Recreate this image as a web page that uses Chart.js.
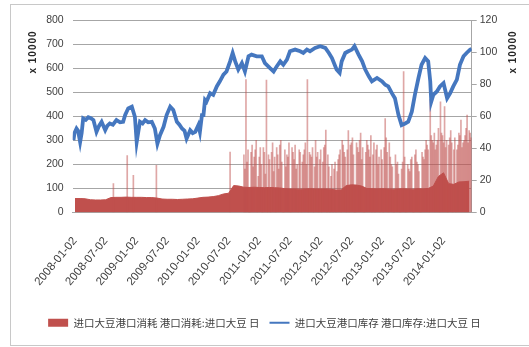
<!DOCTYPE html>
<html>
<head>
<meta charset="utf-8">
<script src="https://cdn.jsdelivr.net/npm/chart.js@4/dist/chart.umd.min.js"></script>
<style>
html,body{margin:0;padding:0;background:#fff;}
#wrap{position:relative;width:529px;height:347px;}
</style>
</head>
<body>
<div id="wrap"><canvas id="c" width="529" height="347"></canvas></div>
<script>
// x values are months counted from 2008-01-02
const tickMonths = [0, 6, 12, 18, 24, 30, 36, 42, 48, 54, 60, 66, 72];
const tickLabels = ["2008-01-02","2008-07-02","2009-01-02","2009-07-02","2010-01-02","2010-07-02",
  "2011-01-02","2011-07-02","2012-01-02","2012-07-02","2013-01-02","2013-07-02","2014-01-02"];
const leftTicks = [0,100,200,300,400,500,600,700,800];
const rightTicks = [0,20,40,60,80,100,120];

const seriesNames = ["进口大豆港口消耗 港口消耗:进口大豆 日", "进口大豆港口库存 港口库存:进口大豆 日"];

// consumption, monthly base level (x 10000), month 0..77
const consumptionBase = [58,58,57,53,52,52,53,62,63,63,64,63,63,63,62,62,60,56,55,55,
  54,55,56,57,60,63,64,66,70,77,80,112,110,105,104,105,104,103,104,103,
  102,99,98,98,97,98,99,98,98,98,97,93,94,112,115,114,110,100,99,98,
  99,98,97,98,99,98,97,99,98,100,110,150,165,120,117,127,128,130];

// consumption, isolated single-day spikes before late 2010 (month, value x 10000)
const earlySpikeMonth = [7.5, 10.2, 11.4, 15.9, 30.3];
const earlySpikeValue = [120, 237, 154, 196, 251];

// consumption, single-day spikes from late 2010 on; set A from month 33.0, set B from 33.2, each every 0.4 month
const spikeA = [240,552,260,0,280,230,300,150,270,0,
  250,550,240,0,290,230,270,180,300,0,
  260,240,290,0,250,280,200,260,0,240,
  290,552,250,230,0,300,250,220,0,270,
  343,240,0,200,180,0,220,260,300,250,
  0,340,280,310,0,290,250,330,270,0,
  300,260,320,240,0,280,230,260,0,390,
  250,290,200,0,240,210,0,180,586,0,
  200,170,230,0,260,200,0,250,220,300,
  260,470,300,330,280,350,460,320,440,300,
  280,340,0,310,260,330,384,290,320,405,
  340,310];
const spikeB = [180,210,0,250,190,260,0,230,200,270,
  160,0,220,250,170,0,240,280,210,0,
  190,230,0,270,220,180,0,250,210,260,
  200,0,240,270,190,230,0,260,210,280,
  0,190,150,0,210,170,240,0,280,230,
  260,0,290,240,0,270,300,220,0,250,
  280,230,0,290,260,200,0,220,270,310,
  0,230,190,0,200,160,0,210,230,0,
  180,220,0,240,210,170,0,230,260,280,
  0,320,290,260,300,0,330,290,270,0,
  310,290,260,0,280,320,270,300,350,290,
  330];
const spikeAStart = 33.0, spikeBStart = 33.2, spikeStep = 0.4;

// inventory (month, value x 10000)
const invMonth = [-0.3,-0.1,0.3,0.6,1.0,1.3,1.6,2.1,2.6,3.1,3.6,4.2,4.7,5.2,5.9,6.3,6.8,7.4,8.1,8.8,
  9.4,9.8,10.4,11.1,11.7,12.05,12.4,12.7,13.2,13.7,14.3,15.0,15.6,16.1,16.6,17.3,17.9,18.6,19.2,19.9,
  20.4,20.9,21.4,21.8,22.5,23.0,23.5,24.1,24.4,24.8,25.1,25.4,25.7,26.4,27.0,27.7,28.3,29.0,29.6,30.3,
  30.8,31.3,31.9,32.6,33.2,33.9,34.5,35.5,36.5,37.1,38.1,38.8,39.4,40.1,40.7,41.4,42.0,43.0,44.0,44.6,
  45.3,45.9,46.9,47.9,48.9,49.6,50.2,51.1,51.7,52.1,52.8,53.4,54.1,54.6,55.4,56.1,56.7,57.4,58.0,59.0,
  60.0,60.6,61.2,61.9,62.5,63.2,63.8,64.5,65.1,65.8,66.4,67.1,67.7,68.4,69.0,69.4,69.6,70.0,70.7,71.3,
  72.0,72.7,73.3,73.9,74.6,75.2,75.9,76.5,77.2,77.5];
const invValue = [300,330,349,340,293,330,391,385,396,392,384,335,360,377,342,360,370,365,384,375,
  377,405,433,440,398,293,340,377,370,384,375,377,349,286,321,356,405,440,426,377,
  365,349,340,307,342,330,335,363,335,405,405,468,461,496,489,524,545,573,586,628,
  663,628,594,621,586,649,656,649,649,621,600,586,607,628,614,635,670,677,670,663,
  677,670,684,691,684,663,642,594,580,628,663,670,677,691,656,628,594,566,545,559,
  545,531,524,496,475,405,363,370,377,419,489,559,614,642,628,545,461,489,503,524,
  538,475,496,524,552,614,649,663,677,680];

const RED = '#C0504D', BLUE = '#4577BF';
const SPIKE = 'rgba(192,80,77,0.5)';

const spikeData = []
  .concat(earlySpikeMonth.map((m, i) => ({x: m, y: earlySpikeValue[i]})))
  .concat(spikeA.map((v, i) => ({x: spikeAStart + i * spikeStep, y: v})))
  .concat(spikeB.map((v, i) => ({x: spikeBStart + i * spikeStep, y: v})));

const framePlugin = {
  id: 'frame',
  beforeDraw(chart) {
    const ctx = chart.ctx;
    ctx.save();
    ctx.fillStyle = '#fff';
    ctx.fillRect(0, 0, chart.width, chart.height);
    ctx.strokeStyle = '#C8C8C8';
    ctx.lineWidth = 1;
    ctx.strokeRect(10.5, 4.5, 600, 341);
    ctx.restore();
  },
  afterDraw(chart) {
    const ctx = chart.ctx;
    ctx.save();
    ctx.fillStyle = '#262626';
    ctx.font = 'bold 10px "Liberation Sans", Arial, sans-serif';
    if ('letterSpacing' in ctx) ctx.letterSpacing = '1px';
    ctx.textAlign = 'center';
    ctx.textBaseline = 'middle';
    [[33, 52], [513, 52]].forEach(([x, y]) => {
      ctx.save();
      ctx.translate(x, y);
      ctx.rotate(-Math.PI / 2);
      ctx.fillText('x 10000', 0, 0);
      ctx.restore();
    });
    ctx.restore();
  }
};

new Chart(document.getElementById('c'), {
  type: 'line',
  data: {
    datasets: [
      {
        label: seriesNames[1],
        data: invMonth.map((m, i) => ({x: m, y: invValue[i]})),
        borderColor: BLUE, borderWidth: 3.8, pointRadius: 0, tension: 0,
        yAxisID: 'y', order: 0, fill: false
      },
      {
        type: 'bar',
        label: 'spikes',
        data: spikeData,
        backgroundColor: SPIKE,
        barThickness: 1, yAxisID: 'y', order: 1
      },
      {
        label: seriesNames[0],
        data: consumptionBase.map((v, i) => ({x: i, y: v})),
        borderColor: RED, borderWidth: 1, backgroundColor: RED,
        fill: 'origin', pointRadius: 0, tension: 0, yAxisID: 'y', order: 2
      }
    ]
  },
  options: {
    responsive: false,
    animation: false,
    events: [],
    layout: {padding: {left: 0, right: 0, top: 20, bottom: 9}},
    plugins: {
      tooltip: {enabled: false},
      legend: {
        display: true,
        position: 'bottom',
        labels: {
          usePointStyle: true,
          pointStyleWidth: 20,
          boxHeight: 8,
          padding: 10,
          color: '#404040',
          font: {size: 10.5, family: '"Noto Sans CJK SC", sans-serif'},
          generateLabels() {
            return [
              {text: seriesNames[0], fillStyle: RED, strokeStyle: RED, lineWidth: 0, pointStyle: 'rect', datasetIndex: 2, fontColor: '#404040'},
              {text: seriesNames[1], fillStyle: BLUE, strokeStyle: BLUE, lineWidth: 2, pointStyle: 'line', datasetIndex: 0, fontColor: '#404040'}
            ];
          }
        }
      }
    },
    scales: {
      x: {
        type: 'linear',
        min: -0.45, max: 77.5,
        offset: false,
        grid: {display: false, drawTicks: false, offset: false},
        border: {display: true, color: '#A6A6A6'},
        afterBuildTicks(scale) { scale.ticks = tickMonths.map(v => ({value: v})); },
        afterFit(scale) { scale.height = 95; },
        ticks: {
          autoSkip: false,
          minRotation: 50, maxRotation: 50,
          padding: 22,
          color: '#404040',
          font: {size: 11.5, family: '"Liberation Sans", Arial, sans-serif'},
          callback(value) { const k = tickMonths.indexOf(value); return k >= 0 ? tickLabels[k] : ''; }
        }
      },
      y: {
        position: 'left',
        min: 0, max: 800,
        afterBuildTicks(scale) { scale.ticks = leftTicks.map(v => ({value: v})); },
        afterFit(scale) { scale.width = 72.7; },
        grid: {color: '#A6A6A6', drawTicks: false, lineWidth: 1},
        border: {display: false},
        ticks: {padding: 9, color: '#404040', font: {size: 10.5, family: '"Liberation Sans", Arial, sans-serif'}}
      },
      y1: {
        position: 'right',
        min: 0, max: 120,
        afterBuildTicks(scale) { scale.ticks = rightTicks.map(v => ({value: v})); },
        afterFit(scale) { scale.width = 57.3; },
        grid: {drawOnChartArea: false, drawTicks: true, tickLength: 5, color: '#A6A6A6'},
        border: {display: true, color: '#A6A6A6'},
        ticks: {padding: 3, color: '#404040', font: {size: 10.5, family: '"Liberation Sans", Arial, sans-serif'}}
      }
    }
  },
  plugins: [framePlugin]
});
</script>
</body>
</html>
